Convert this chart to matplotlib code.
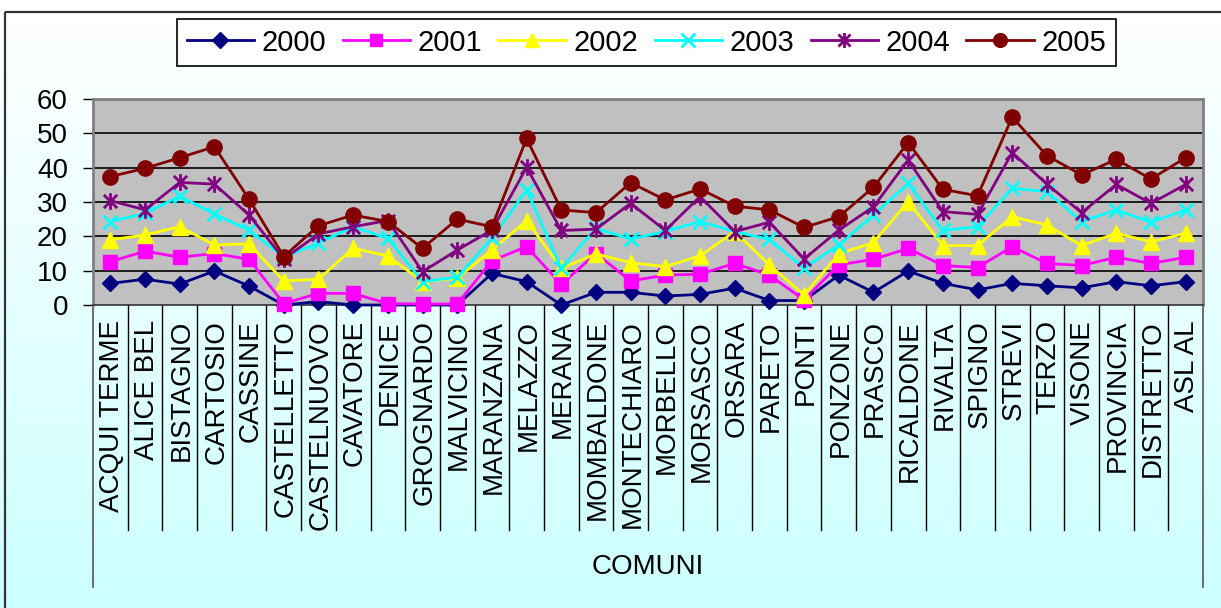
import numpy as np
import matplotlib
matplotlib.use('Agg')
import matplotlib.pyplot as plt
from matplotlib.path import Path
from matplotlib.transforms import blended_transform_factory
from matplotlib.lines import Line2D

comuni = ["ACQUI TERME", "ALICE BEL", "BISTAGNO", "CARTOSIO", "CASSINE", "CASTELLETTO",
          "CASTELNUOVO", "CAVATORE", "DENICE", "GROGNARDO", "MALVICINO", "MARANZANA",
          "MELAZZO", "MERANA", "MOMBALDONE", "MONTECHIARO", "MORBELLO", "MORSASCO",
          "ORSARA", "PARETO", "PONTI", "PONZONE", "PRASCO", "RICALDONE", "RIVALTA",
          "SPIGNO", "STREVI", "TERZO", "VISONE", "PROVINCIA", "DISTRETTO", "ASL AL"]
years = ["2000", "2001", "2002", "2003", "2004", "2005"]

v2000 = [6.3, 7.5, 6.1, 9.9, 5.5, 0.0, 1.0, 0.0, 0.0, 0.0, 0.0, 9.2, 6.8, 0.0, 3.7, 3.7,
         2.6, 3.1, 4.9, 1.3, 1.3, 8.7, 3.7, 9.9, 6.3, 4.4, 6.3, 5.6, 5.0, 6.8, 5.6, 6.8]
v2001 = [12.6, 15.7, 13.9, 15.0, 13.3, 0.4, 3.4, 3.4, 0.4, 0.3, 0.3, 12.9, 17.0, 6.0, 15.0, 7.0,
         8.7, 9.0, 12.1, 8.7, 1.5, 11.7, 13.3, 16.5, 11.5, 10.9, 17.0, 12.1, 11.5, 13.9, 12.1, 13.9]
v2002 = [19.0, 20.4, 22.8, 17.5, 17.8, 7.0, 7.5, 16.5, 14.3, 6.8, 7.8, 16.0, 24.6, 10.7, 14.9, 12.3,
         11.2, 14.3, 21.4, 11.7, 2.9, 14.9, 18.2, 30.1, 17.3, 17.3, 25.7, 23.3, 17.3, 20.9, 18.4, 20.9]
v2003 = [24.3, 26.7, 31.7, 26.5, 21.8, 14.0, 18.0, 22.8, 19.4, 6.8, 8.1, 19.4, 33.5, 10.7, 22.3, 19.2,
         21.4, 24.3, 21.4, 19.1, 10.7, 17.5, 26.2, 35.4, 21.7, 22.8, 34.0, 33.0, 24.3, 27.7, 24.1, 27.7]
v2004 = [30.4, 27.7, 35.7, 35.2, 26.2, 13.4, 20.7, 22.8, 24.6, 9.7, 16.0, 21.8, 40.1, 21.7, 22.1, 29.6,
         21.7, 31.6, 21.4, 24.1, 13.4, 21.8, 28.6, 42.2, 27.2, 26.4, 44.4, 35.2, 26.9, 35.1, 29.6, 35.1]
v2005 = [37.4, 39.8, 42.9, 46.1, 30.8, 14.1, 23.1, 26.2, 24.3, 16.5, 25.0, 22.8, 48.5, 27.7, 26.9, 35.6,
         30.6, 33.8, 28.8, 27.7, 22.6, 25.7, 34.3, 47.3, 33.7, 31.8, 54.7, 43.5, 37.9, 42.4, 36.7, 42.9]
series = [v2000, v2001, v2002, v2003, v2004, v2005]

colors = ["#000080", "#FF00FF", "#FFFF00", "#00FFFF", "#800080", "#800000"]

# asterisk marker (vertical stroke + X)
star_path = Path([(0, -1), (0, 1), (-0.8, -0.8), (0.8, 0.8), (-0.8, 0.8), (0.8, -0.8)],
                 [Path.MOVETO, Path.LINETO, Path.MOVETO, Path.LINETO, Path.MOVETO, Path.LINETO])
markers = ["D", "s", "^", "x", star_path, "o"]
msizes = [8.5, 9.5, 11.5, 10.5, 12, 11]
filled = [True, True, True, False, False, True]

FONT = "Liberation Sans"
plt.rcParams['font.family'] = [FONT, 'DejaVu Sans']

W, H = 1221, 608
fig = plt.figure(figsize=(W / 100, H / 100), dpi=100)
def fx(px): return px / W
def fy(py): return 1 - py / H

# background gradient + outer frame
bg = fig.add_axes([0, 0, 1, 1], zorder=-10)
bg.set_xlim(0, 1); bg.set_ylim(0, 1); bg.set_axis_off()
t = np.linspace(0, 1, 300)[:, None, None]
top = np.array([1.0, 1.0, 1.0]); bot = np.array([0.80, 1.0, 1.0])
img = top + (bot - top) * t
bg.imshow(np.repeat(img, 2, axis=1), aspect='auto', extent=[0, 1, 0, fy(12)], origin='upper')
bg.plot([fx(5), fx(5)], [0, fy(12)], color='#333333', lw=1.6, solid_capstyle='butt')
bg.plot([fx(5), 1], [fy(12), fy(12)], color='#333333', lw=1.6, solid_capstyle='butt')

# main axes
L, R, T, B = 93, 1203, 99, 305
ax = fig.add_axes([fx(L), fy(B), fx(R) - fx(L), fy(T) - fy(B)])
ax.set_facecolor('#C0C0C0')
n = len(comuni)
x = np.arange(n)
ax.set_xlim(-0.5, n - 0.5)
ax.set_ylim(0, 60)
ax.set_yticks(range(0, 61, 10))
ax.set_xticks([])
for g in range(10, 60, 10):
    ax.axhline(g, color='black', lw=1.2, zorder=1)
for side in ['top', 'right', 'left']:
    ax.spines[side].set_color('#808080')
    ax.spines[side].set_linewidth(2)
ax.spines['bottom'].set_color('#333333')
ax.spines['bottom'].set_linewidth(1.2)
ax.tick_params(axis='y', length=7, width=1, color='black', pad=11, labelsize=20)
for lab in ax.get_yticklabels():
    lab.set_fontfamily(FONT)

handles = []
for vals, yr, c, m, ms, f in zip(series, years, colors, markers, msizes, filled):
    kw = dict(color=c, lw=2, marker=m, markersize=ms, clip_on=False, zorder=5)
    if f:
        kw.update(markerfacecolor=c, markeredgecolor=c, markeredgewidth=1)
    else:
        kw.update(markeredgecolor=c, markeredgewidth=2)
    ax.plot(x, vals, **kw)
    hkw = dict(kw)
    hkw['markersize'] = ms * 0.9
    handles.append(Line2D([0], [0], label=yr, **hkw))

# category labels and separators
tr = blended_transform_factory(ax.transData, fig.transFigure)
for i, name in enumerate(comuni):
    ax.text(i + 0.05, fy(320), name, transform=tr, rotation=90, ha='center', va='top',
            fontsize=20, fontfamily=FONT, clip_on=False)
for k in range(1, n):
    ax.plot([k - 0.5, k - 0.5], [fy(B), fy(530)], transform=tr, color='black', lw=1,
            clip_on=False)
for k in [0, n]:
    ax.plot([k - 0.5, k - 0.5], [fy(B), fy(587)], transform=tr, color='#555555', lw=1.2,
            clip_on=False)
ax.text((n - 1) / 2, fy(567), "COMUNI", transform=tr, ha='center', va='center',
        fontsize=20, fontfamily=FONT)

leg = fig.legend(handles=handles, loc='upper left', bbox_to_anchor=(fx(177), fy(19)),
                 ncol=6, fontsize=21, frameon=True, fancybox=False, edgecolor='black',
                 framealpha=1, facecolor='white', handlelength=2.3, handletextpad=0.27,
                 columnspacing=0.56, borderpad=0.33, borderaxespad=0, numpoints=1)
leg.get_frame().set_linewidth(1.2)

fig.savefig('out.png', dpi=100)
